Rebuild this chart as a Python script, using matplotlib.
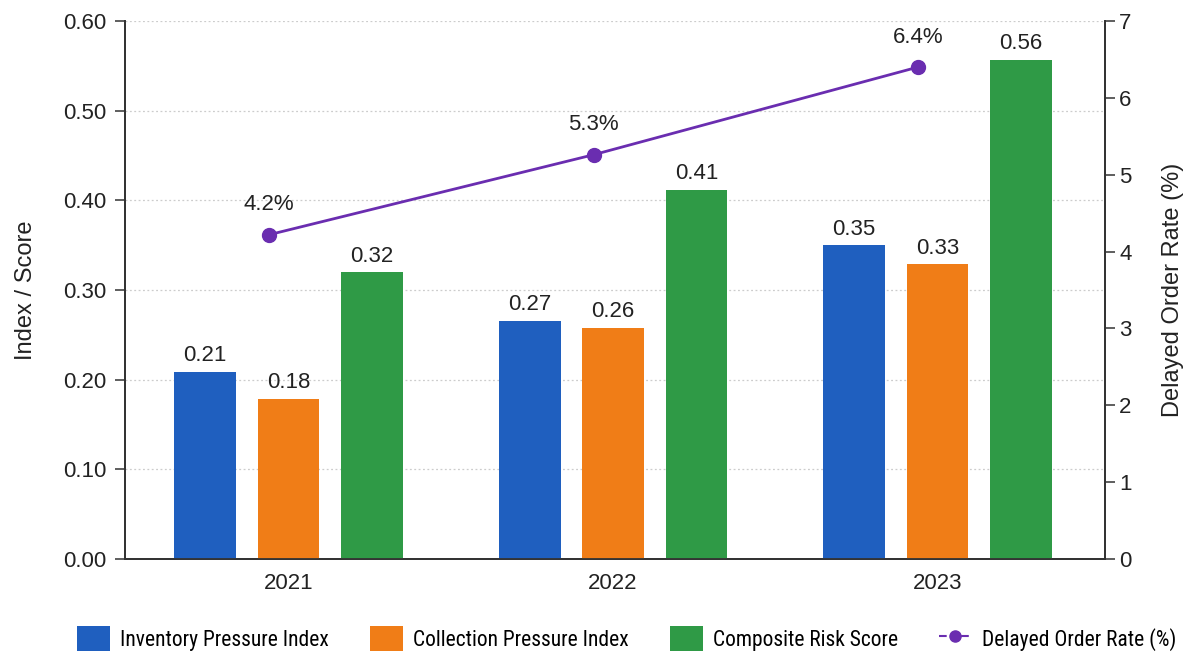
import matplotlib
matplotlib.use("Agg")
import matplotlib.pyplot as plt
import numpy as np
from matplotlib.lines import Line2D
from matplotlib.patches import Patch
from matplotlib import font_manager

plt.rcParams['font.family'] = ['Liberation Sans', 'DejaVu Sans']

years = ["2021", "2022", "2023"]
inventory = [0.209, 0.266, 0.350]
collection = [0.179, 0.258, 0.329]
composite = [0.320, 0.412, 0.557]
delayed = [4.22, 5.26, 6.40]

series_names = ["Inventory Pressure Index", "Collection Pressure Index", "Composite Risk Score"]
line_name = "Delayed Order Rate (%)"
colors = ["#1f5fbf", "#f07d17", "#2f9a46"]
line_color = "#6a2db0"
axis_color = "#333333"

names = {f.name for f in font_manager.fontManager.ttflist}
legend_family = ['Liberation Sans Narrow', 'Roboto Condensed', 'Liberation Sans']
legend_family = [f for f in legend_family if f in names] or ['DejaVu Sans']

fig = plt.figure(figsize=(11.89, 6.54), dpi=100)
ax = fig.add_axes([0.105, 0.145, 0.824, 0.823])
ax2 = ax.twinx()

x = np.arange(len(years))
width = 0.19
pitch = 0.257
for k, (vals, c) in enumerate(zip([inventory, collection, composite], colors)):
    pos = x + (k - 1) * pitch
    ax.bar(pos, vals, width, color=c, zorder=3)
    for p, v in zip(pos, vals):
        ax.text(p, v + 0.006, f"{v:.2f}", ha="center", va="bottom", fontsize=16, color="#222222", zorder=4)

ax.set_ylim(0, 0.60)
ax.set_yticks(np.arange(0, 0.61, 0.1))
ax.set_yticklabels([f"{v:.2f}" for v in np.arange(0, 0.61, 0.1)])
ax.set_xlim(-0.505, 2.515)
ax.set_xticks(x)
ax.set_xticklabels(years)
ax.grid(axis="y", linestyle=(0, (1.5, 2)), color="#cccccc", linewidth=0.9, zorder=0)
ax.set_axisbelow(True)
ax.set_ylabel("Index / Score", fontsize=17, color="#222222", labelpad=19)

ax2.set_ylim(0, 7)
ax2.set_yticks(range(0, 8))
ax2.set_ylabel(line_name, fontsize=17, color="#222222", labelpad=22)
lx = x - 0.06
ax2.plot(lx, delayed, color=line_color, linewidth=2, marker="o", markersize=10, zorder=5)
for p, v in zip(lx, delayed):
    ax2.text(p, v + 0.25, f"{v:.1f}%", ha="center", va="bottom", fontsize=16, color="#222222")

for a in (ax, ax2):
    a.spines["top"].set_visible(False)
    for s in ("left", "right", "bottom"):
        a.spines[s].set_color(axis_color)
        a.spines[s].set_linewidth(1.3)
    a.tick_params(axis="both", labelsize=16, colors=axis_color, labelcolor="#222222", length=7, width=1.1)
ax.tick_params(axis="y", pad=6)
ax.tick_params(axis="x", length=0, pad=10)

handles = [Patch(facecolor=c, label=n) for c, n in zip(colors, series_names)]
handles.append(Line2D([0], [0], color=line_color, linestyle="--", marker="o", markersize=8, linewidth=1.5, label=line_name))
fig.legend(handles=handles, loc="lower center", ncol=4, frameon=False,
           prop={'family': legend_family, 'size': 15.5},
           bbox_to_anchor=(0.527, -0.025), handlelength=1.55, handleheight=1.4,
           handletextpad=0.45, columnspacing=1.9)

fig.savefig("out.png", dpi=100, facecolor="white")
